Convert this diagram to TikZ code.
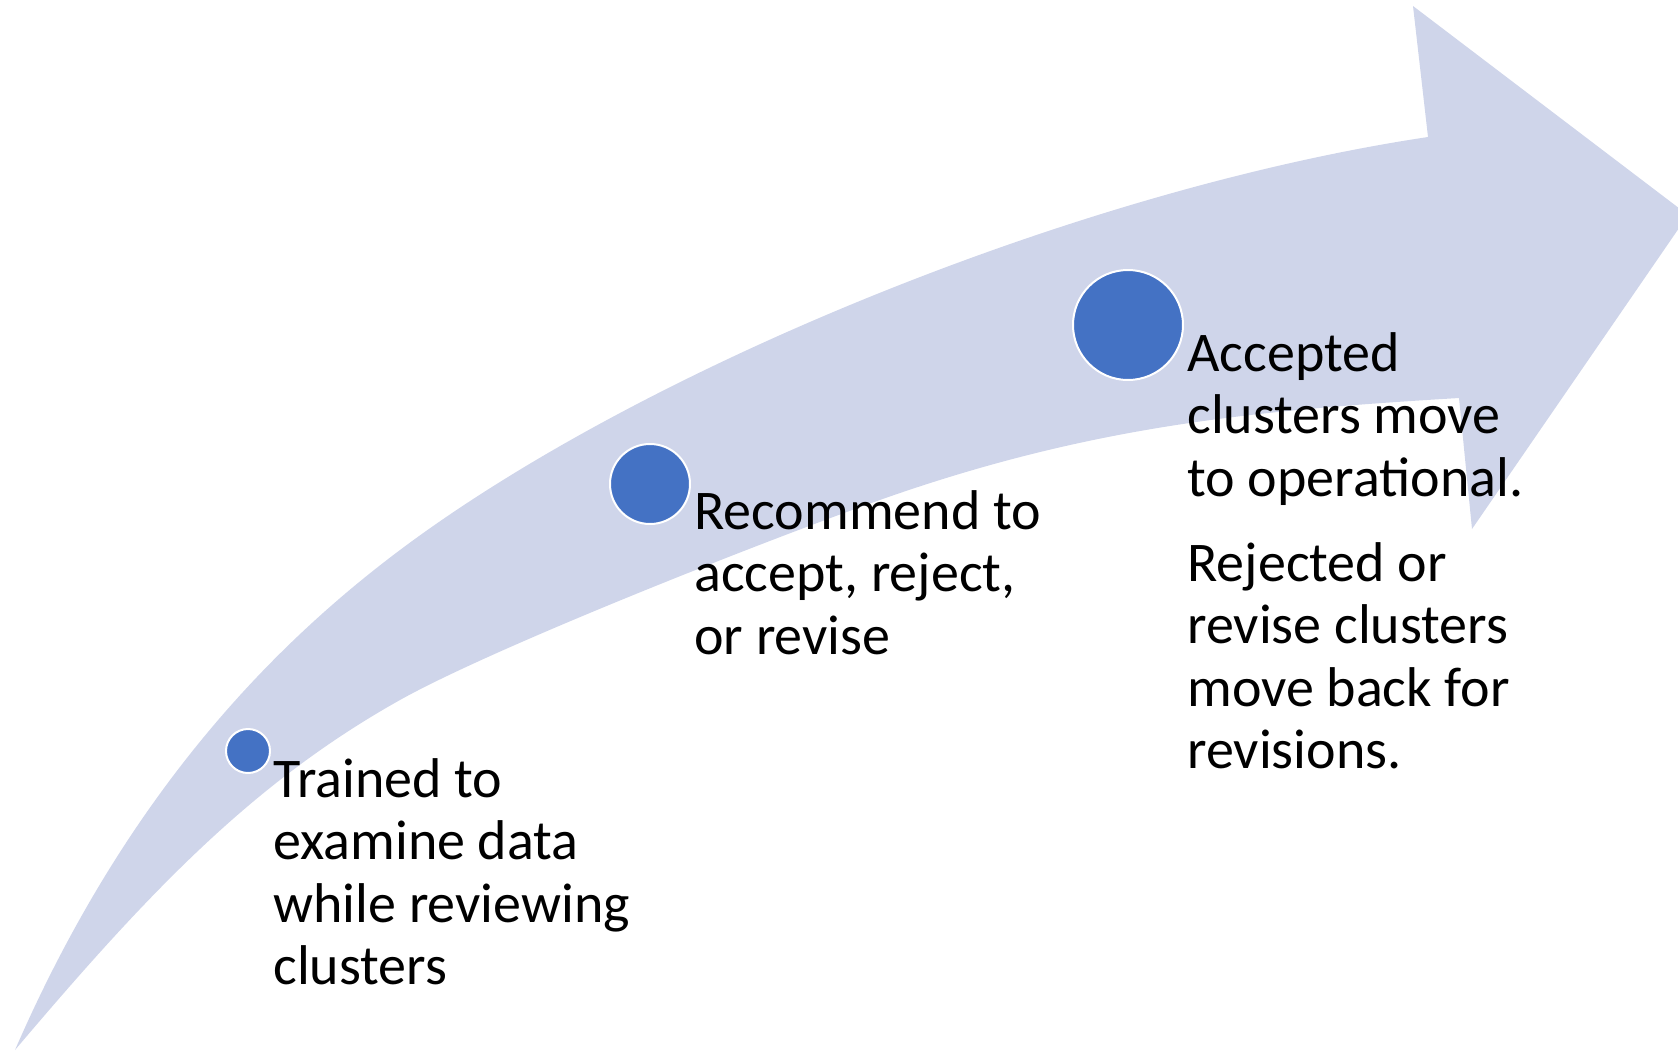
\documentclass[tikz,border=0pt]{standalone}
\usepackage{fontspec}
\setmainfont{Carlito}

\definecolor{bandblue}{HTML}{CFD5EA}
\definecolor{dotblue}{HTML}{4472C4}

\tikzset{
    dot/.style={circle, fill=dotblue, draw=white, line width=1pt, inner sep=0pt},
    % base = baseline of the last line of a multi-line node
    steptext/.style={anchor=base west, align=left, inner sep=0pt,
        font=\fontsize{28}{31.25}\selectfont}
}

\begin{document}
\begin{tikzpicture}[x=0.5pt, y=-0.5pt]

        \useasboundingbox (0,0) rectangle (1678,1051);
        \clip (0,0) rectangle (1678,1051);

        % ==========================================
        % 1. Freccia curva (sfondo)
        % ==========================================
        \fill[bandblue]
            (15,1050) .. controls (125,797) and (270,647.5) .. (400,550)
            .. controls (640,370) and (1078,189.5) .. (1428,137)
            -- (1413,6) -- (1688,215) -- (1472,529) -- (1459,398)
            .. controls (1259,410) and (1100,425) .. (900,493)
            .. controls (800,527) and (500,644) .. (400,700)
            .. controls (250,784) and (145,896.6) .. (15,1050)
            -- cycle;

        % ==========================================
        % 2. Punti delle fasi
        % ==========================================
        \node[dot, minimum size=22pt] (dot1) at (248,751) {};
        \node[dot, minimum size=40pt] (dot2) at (650,484) {};
        \node[dot, minimum size=55pt] (dot3) at (1128,325) {};

        % ==========================================
        % 3. Testi
        % ==========================================
        \node[steptext] (text1) at (273,984.5)
            {Trained to\\examine data\\while reviewing\\clusters};
        \node[steptext] (text2) at (694,654)
            {Recommend to\\accept, reject,\\or revise};
        \node[steptext] (text3) at (1187,768.5)
            {Accepted\\clusters move\\to operational.\\[11.25pt]Rejected or\\revise clusters\\move back for\\revisions.};

    \end{tikzpicture}
\end{document}
